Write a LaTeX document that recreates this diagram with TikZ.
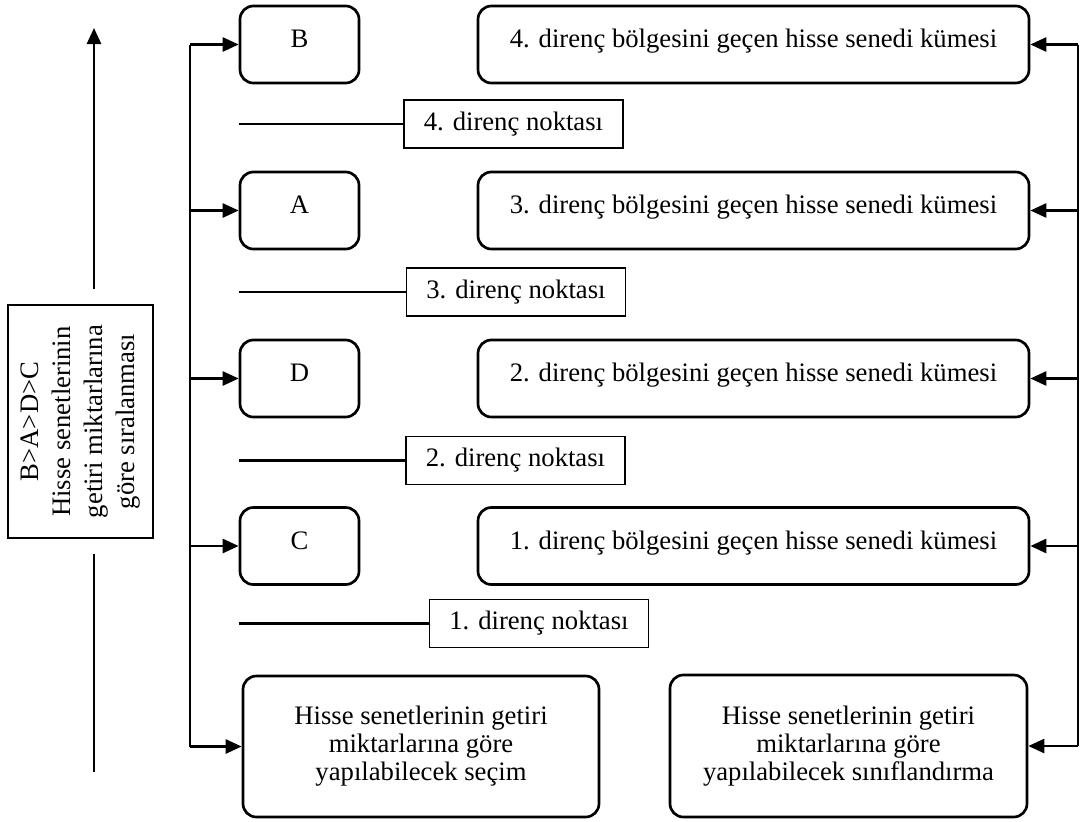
\documentclass[tikz,border=0pt]{standalone}
\usepackage{fontspec}
\setmainfont{Liberation Serif}
\usetikzlibrary{arrows.meta,calc}

\tikzset{
    kutu/.style={draw,rectangle,rounded corners=10pt,line width=2pt,align=center},
    harf/.style={kutu,minimum width=89.25pt,minimum height=57.75pt,text height=14pt,text depth=9pt},
    kume/.style={kutu,minimum width=413.25pt,minimum height=57.75pt,text height=14pt,text depth=9pt},
    nokta/.style={draw,rectangle,line width=1pt,minimum width=164.25pt,minimum height=36pt},
    cizgi/.style={line width=2pt},
    ok/.style={cizgi,-{Triangle[length=12pt,width=10.5pt]}}
}

\begin{document}
\begin{tikzpicture}[x=0.75pt,y=-0.75pt,font=\fontsize{20}{24}\selectfont]
    \useasboundingbox (0,0) rectangle (1081,821);

    \node[harf] (B) at (299.5,44.5) {B};
    \node[harf] (A) at (299.5,210.5) {A};
    \node[harf] (D) at (299.5,378.5) {D};
    \node[harf] (C) at (299.5,546) {C};

    \node[kume] (k4) at (753.5,44.5) {4. direnç bölgesini geçen hisse senedi kümesi};
    \node[kume] (k3) at (753.5,210.5) {3. direnç bölgesini geçen hisse senedi kümesi};
    \node[kume] (k2) at (753.5,378.5) {2. direnç bölgesini geçen hisse senedi kümesi};
    \node[kume] (k1) at (753.5,546) {1. direnç bölgesini geçen hisse senedi kümesi};

    \node[nokta] (n4) at (513.5,124) {4. direnç noktası};
    \node[nokta] (n3) at (516,292) {3. direnç noktası};
    \node[nokta] (n2) at (515.5,460.5) {2. direnç noktası};
    \node[nokta] (n1) at (539,623.5) {1. direnç noktası};

    \node[kutu,minimum width=267pt,minimum height=105.75pt,font=\fontsize{20}{21}\selectfont] (secim) at (421,746.5)
        {Hisse senetlerinin getiri\\miktarlarına göre\\yapılabilecek seçim};
    \node[kutu,minimum width=267.75pt,minimum height=106.5pt,font=\fontsize{20}{21}\selectfont] (sinif) at (848.5,746)
        {Hisse senetlerinin getiri\\miktarlarına göre\\yapılabilecek sınıflandırma};

    \node[draw,line width=1pt,rotate=90,minimum width=174.75pt,minimum height=108.75pt,align=center] (sira) at (80.5,421.5)
        {B>A>D>C\\Hisse senetlerinin\\getiri miktarlarına\\göre sıralanması};

    \coordinate (sol) at (190,0);
    \coordinate (sag) at (1078,0);
    \coordinate (ust) at (94,28);
    \coordinate (alt) at (94,772);

    % sol taraf
    \draw[cizgi] (B.west -| sol) -- (secim.west -| sol);
    \foreach \n in {B,A,D,C,secim}
        \draw[ok] (\n.west -| sol) -- (\n.west);

    % sag taraf
    \draw[cizgi] (k4.east -| sag) -- (sinif.east -| sag);
    \foreach \n in {k4,k3,k2,k1,sinif}
        \draw[ok] (\n.east -| sag) -- (\n.east);

    \foreach \n in {n4,n3,n2,n1}
        \draw[cizgi] (\n.west -| B.west) -- (\n.west);

    \draw[ok] ([yshift=11.25pt]sira.east -| ust) -- (ust);
    \draw[cizgi] ([yshift=-11.25pt]sira.west -| alt) -- (alt);
\end{tikzpicture}
\end{document}
